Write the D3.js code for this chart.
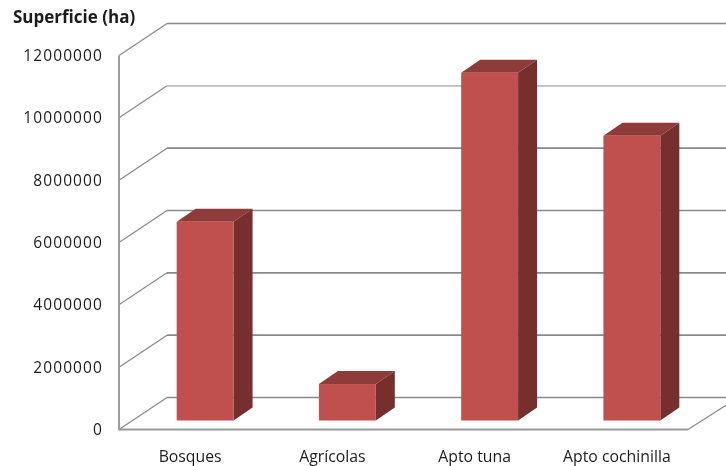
<!DOCTYPE html>
<html><head><meta charset="utf-8">
<script src="https://cdn.jsdelivr.net/npm/d3@7"></script>
<style>html,body{margin:0;padding:0;background:#fff}svg{display:block;filter:blur(0.4px)}text{font-family:"Open Sans",sans-serif;fill:#1c1c1c}</style>
</head><body><div id="chart"></div>
<script>
const categories = ["Bosques","Agrícolas","Apto tuna","Apto cochinilla"];
const superficie = [6380000,1170000,11160000,9140000];
const yTicks = [0,2000000,4000000,6000000,8000000,10000000,12000000];
const yTitle = "Superficie (ha)";
const W=726,H=466;
const svg=d3.select("#chart").append("svg").attr("width",W).attr("height",H);
const left=119,right=688,depthX=48,depthY=32,barDX=19,barDY=13,baseInset=9;
const y=d3.scaleLinear().domain([0,12000000]).range([429.5,55.5]);
const x=d3.scaleBand().domain(categories).range([left+15,right+15]).paddingInner(0.6).paddingOuter(0.3);
const grid=svg.append("g").attr("fill","none");
yTicks.forEach(t=>{
  const yy=y(t), light=t===10000000;
  grid.append("path").attr("d",`M${left},${yy}L${left+depthX},${yy-depthY}`)
    .attr("stroke","#8c8c8c").attr("stroke-width",1.3);
  grid.append("path").attr("d",`M${left+depthX},${yy-depthY}L${W+2},${yy-depthY}`)
    .attr("stroke",light?"#bdbdbd":"#8a8a8a").attr("stroke-width",1.7);
});
grid.append("path").attr("d",`M${left},${y(12000000)}L${left},${y(0)}L${right},${y(0)}`)
  .attr("stroke","#999").attr("stroke-width",1.9);
grid.append("path").attr("d",`M${right},${y(0)}L${W+2},${y(0)-25.5}`)
  .attr("stroke","#8c8c8c").attr("stroke-width",1.3);
const bars=svg.append("g").selectAll("g").data(categories).join("g");
const hOf=v=>y(0)-y(v);
const base=y(0)-baseInset;
bars.append("path").attr("fill","#8f3b39").attr("d",(c,i)=>{
  const x0=x(c),x1=x0+x.bandwidth(),t=base-hOf(superficie[i]);
  return `M${x0},${t}L${x0+barDX},${t-barDY}L${x1+barDX},${t-barDY}L${x1},${t}Z`;});
bars.append("path").attr("fill","#772f2e").attr("d",(c,i)=>{
  const x1=x(c)+x.bandwidth(),t=base-hOf(superficie[i]);
  return `M${x1},${t}L${x1+barDX},${t-barDY}L${x1+barDX},${base-barDY}L${x1},${base}Z`;});
bars.append("rect").attr("fill","#c0504d").attr("x",c=>x(c)).attr("width",x.bandwidth())
  .attr("y",(c,i)=>base-hOf(superficie[i])).attr("height",(c,i)=>hOf(superficie[i]));
svg.append("g").selectAll("text").data(yTicks).join("text")
  .attr("x",103).attr("y",t=>y(t)).attr("dy","0.35em").attr("text-anchor","end")
  .attr("font-size",15.5).attr("letter-spacing",1.1).text(t=>String(t));
svg.append("g").selectAll("text").data(categories).join("text")
  .attr("x",c=>x(c)+x.bandwidth()/2-15).attr("y",456).attr("dy","0.35em").attr("text-anchor","middle")
  .attr("font-size",15.8).text(c=>c);
svg.append("text").attr("x",13).attr("y",17).attr("dy","0.35em").attr("font-size",17).attr("font-weight",700).text(yTitle);
</script></body></html>
